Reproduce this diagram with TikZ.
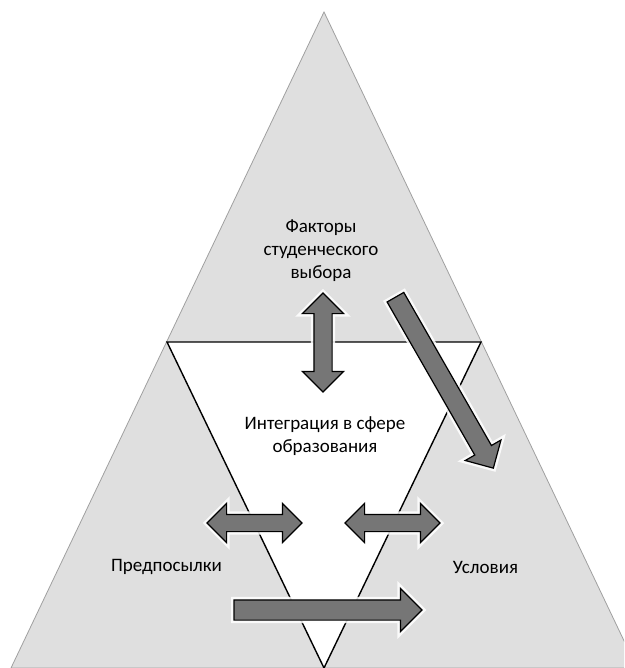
\documentclass[tikz,border=0pt]{standalone}
\usepackage{fontspec}
\setmainfont{Carlito}
\usetikzlibrary{shapes.arrows}
\definecolor{trigray}{RGB}{223,223,223}
\definecolor{trigedge}{RGB}{160,160,160}
\definecolor{arrowgray}{RGB}{118,118,118}
\begin{document}
\begin{tikzpicture}[x=1pt,y=-1pt,
  blockarrow/.style={fill=arrowgray, draw=black, line width=1.2pt, line join=miter,
    inner xsep=0pt, outer sep=0pt,
    preaction={draw=white, line width=6pt, draw opacity=0.85}},
  dblarrow/.style={blockarrow, double arrow, double arrow tip angle=90},
  sglarrow/.style={blockarrow, single arrow, single arrow tip angle=90},
  lbl/.style={font=\fontsize{19}{23}\selectfont, align=center, inner sep=0pt, text=black}
]
\useasboundingbox (0,0) rectangle (624,668);
\clip (0,0) rectangle (624,668);
\fill[white] (0,0) rectangle (624,668);

% outer triangle
\coordinate (apex) at (324,12);
\coordinate (bl) at (11,668);
\coordinate (br) at (637,668);
\filldraw[fill=trigray, draw=trigedge, line width=0.8pt] (apex) -- (bl) -- (br) -- cycle;

% inner inverted triangle
\coordinate (itl) at (167,342);
\coordinate (itr) at (481,342);
\coordinate (ibot) at (324,668);
\filldraw[fill=white, draw=black, line width=1.4pt, line join=miter] (itl) -- (itr) -- (ibot) -- cycle;

% arrows
\node[dblarrow, rotate=90, minimum height=99pt, inner ysep=8.5pt, double arrow head extend=11.5pt] (varrow) at (323,342.5) {};
\node[dblarrow, minimum height=95pt, inner ysep=8pt, double arrow head extend=11pt] (larrow) at (254.5,523) {};
\node[dblarrow, minimum height=95pt, inner ysep=8pt, double arrow head extend=11pt] (rarrow) at (392.5,523) {};
\node[sglarrow, minimum height=188pt, inner ysep=9.5pt, single arrow head extend=11.5pt] (barrow) at (323,610) {};
\node[sglarrow, rotate=-60.2, minimum height=197pt, inner ysep=9pt, single arrow head extend=11pt] (darrow) at (442,378.5) {};

% labels
\node[lbl] (factors) at (321,251) {Факторы\\студенческого\\выбора};
\node[lbl] (integ) at (325,436) {Интеграция в сфере\\образования};
\node[lbl] (prereq) at (166.5,567) {Предпосылки};
\node[lbl] (cond) at (485.5,567) {Условия};
\end{tikzpicture}
\end{document}
